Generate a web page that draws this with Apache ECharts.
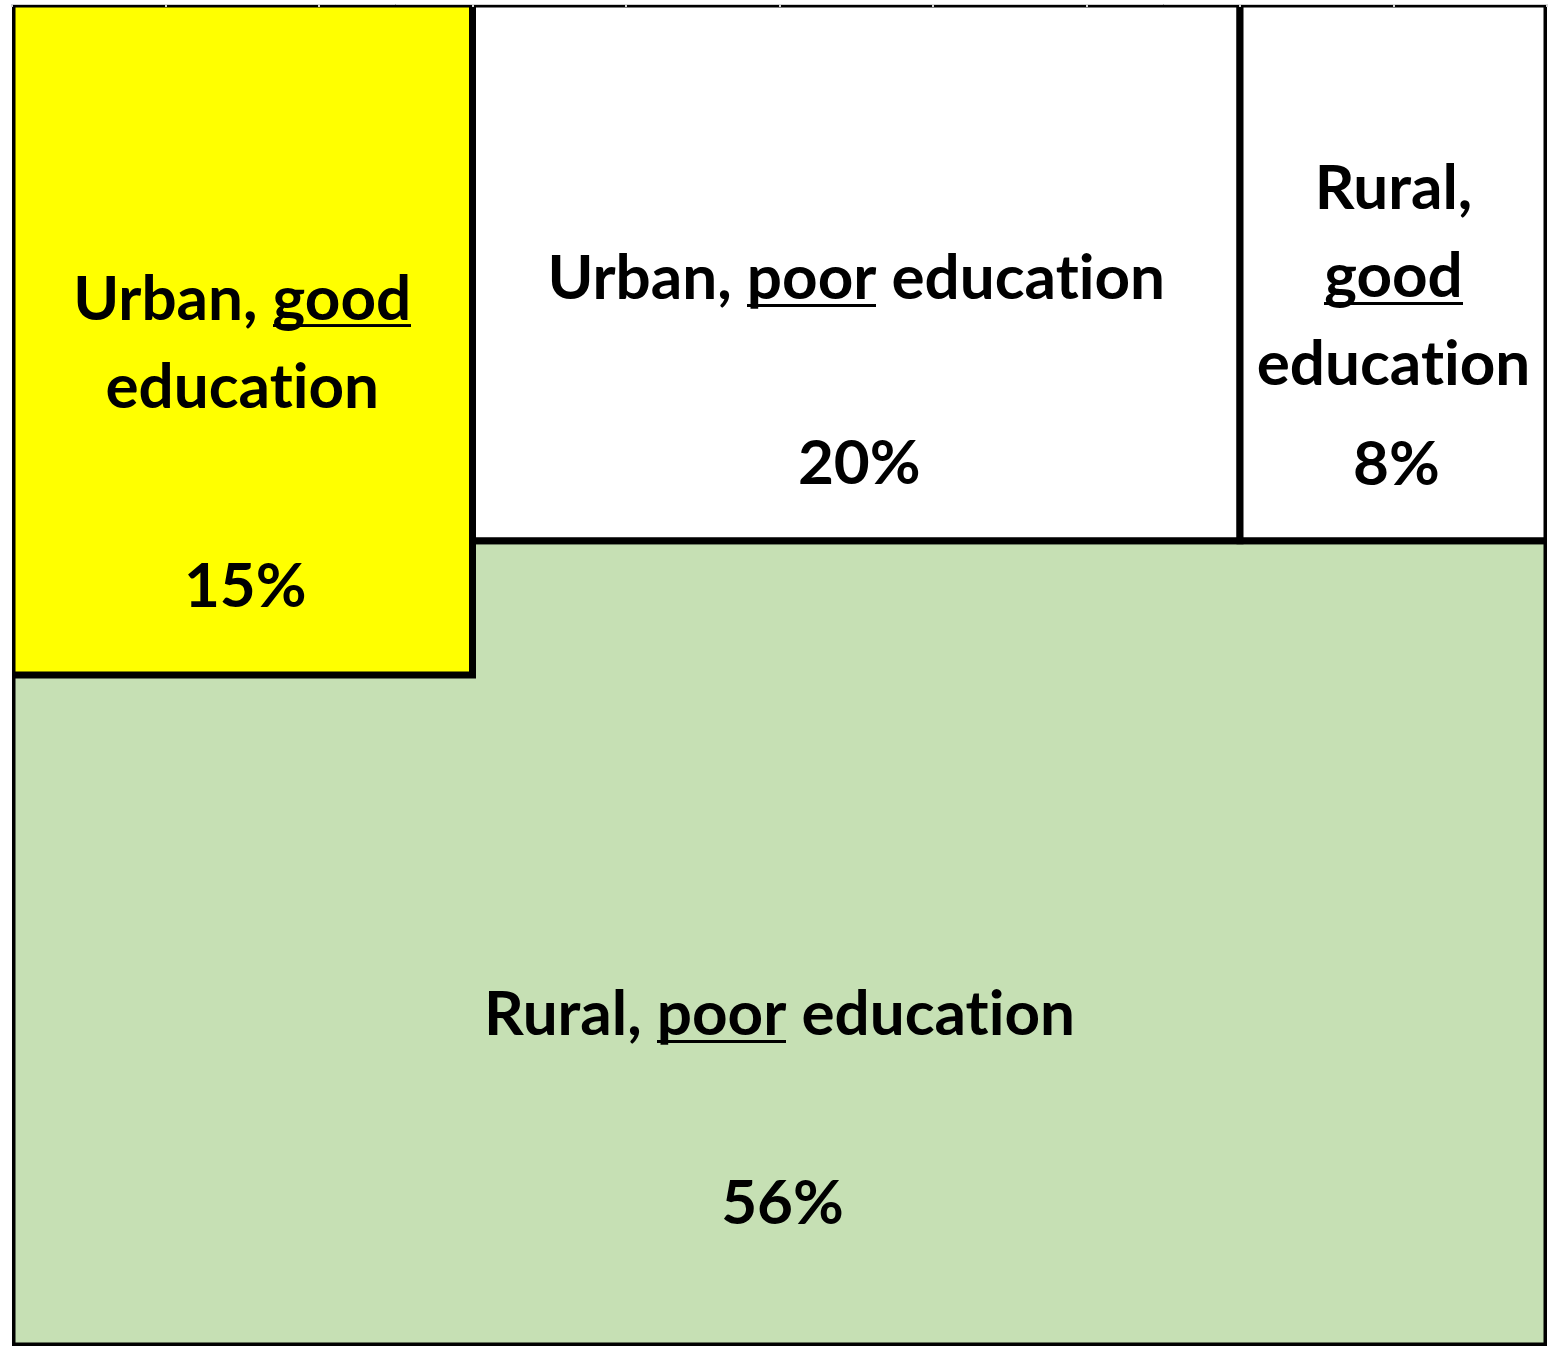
<!DOCTYPE html>
<html>
<head>
<meta charset="utf-8">
<script src="https://cdn.jsdelivr.net/npm/echarts@6/dist/echarts.min.js"></script>
<style>
  html, body { margin: 0; padding: 0; background: #fff; }
  #chart { width: 1549px; height: 1346px; }
</style>
</head>
<body>
<div id="chart"></div>
<script>
// mosaic cells: x = share of the width, y = share of the height (from the top)
const categories = ['Urban, good education', 'Urban, poor education', 'Rural, good education', 'Rural, poor education'];
const shares = [15, 20, 8, 56];
const xFrom = [0, 30, 80, 0];
const xTo = [30, 80, 100, 100];
const yFrom = [0, 0, 0, 40];
const yTo = [50, 40, 40, 100];

// how each name is broken into lines, {u|..} gets underlined
// ("ion" is its own token so Lato doesn't draw "ti" as a ligature)
const EDU = 'educat{n|ion}';
const labelText = [
  'Urban, {u|good}\n' + EDU,
  'Urban, {u|poor} ' + EDU,
  'Rural,\n{u|good}\n' + EDU,
  'Rural, {u|poor} ' + EDU
];

const fills = ['#ffff00', '#ffffff', '#ffffff', '#c6e0b4'];
// px shift of [name, percent] from the cell centre
const labelShift = [[4, 247], [7, 192], [5, 193], [72, 261]];
const LINE_H = 88;
const FONT = 'Lato, "Open Sans", sans-serif';

// size the font so the long name is as wide as in the picture
const mctx = document.createElement('canvas').getContext('2d');
mctx.font = 'bold 100px ' + FONT;
const fontSize = Math.round(100 * 618 / mctx.measureText('Urban, poor education').width);
mctx.font = 'bold ' + fontSize + 'px ' + FONT;
mctx.textBaseline = 'middle';
const baseDrop = mctx.measureText('x').actualBoundingBoxDescent;

// a strip used as background of the underlined word
const ul = document.createElement('canvas');
ul.width = 4;
ul.height = LINE_H;
const uctx = ul.getContext('2d');
uctx.fillStyle = '#000';
uctx.fillRect(0, Math.round(LINE_H / 2 + baseDrop + 15), 4, 4);

const tokenFont = {
  fontSize: fontSize,
  fontWeight: 'bold',
  fontFamily: FONT,
  lineHeight: LINE_H
};
const textBase = Object.assign({
  fill: '#000',
  align: 'center',
  verticalAlign: 'middle'
}, tokenFont);

// big cell first so the others are drawn over it
const order = [3, 0, 1, 2];
const cellData = order.map(i => [xFrom[i], xTo[i], yFrom[i], yTo[i], shares[i]]);

function renderItem(params, api) {
  const i = order[params.dataIndex];
  const p0 = api.coord([api.value(0), api.value(2)]);
  const p1 = api.coord([api.value(1), api.value(3)]);
  const cx = (p0[0] + p1[0]) / 2;
  const cy = (p0[1] + p1[1]) / 2;
  return {
    type: 'group',
    children: [
      {
        type: 'rect',
        z2: i === 3 ? 0 : 1,
        shape: {x: p0[0], y: p0[1], width: p1[0] - p0[0], height: p1[1] - p0[1]},
        style: {fill: fills[i], stroke: '#000', lineWidth: 7}
      },
      {
        type: 'text',
        z2: 5,
        style: Object.assign({}, textBase, {
          text: labelText[i],
          x: cx,
          y: cy + labelShift[i][0],
          rich: {
            u: Object.assign({backgroundColor: {image: ul}}, tokenFont),
            n: Object.assign({}, tokenFont)
          }
        })
      },
      {
        type: 'text',
        z2: 5,
        style: Object.assign({}, textBase, {
          text: api.value(4) + '%',
          x: cx + 3,
          y: cy + labelShift[i][1]
        })
      }
    ]
  };
}

const chart = echarts.init(document.getElementById('chart'));
chart.setOption({
  animation: false,
  grid: {left: 12, right: 2, top: 4, bottom: 0},
  xAxis: {
    type: 'value',
    position: 'top',
    min: 0,
    max: 100,
    interval: 10,
    offset: 1,
    z: 10,
    axisLine: {show: true, lineStyle: {color: '#cfcfcf', width: 1}},
    axisTick: {show: true, inside: true, length: 3, lineStyle: {color: '#d6d6d6', width: 2}},
    axisLabel: {show: false},
    splitLine: {show: false}
  },
  yAxis: {
    type: 'value',
    inverse: true,
    min: 0,
    max: 100,
    show: false,
    splitLine: {show: false}
  },
  series: [{
    type: 'custom',
    clip: true,
    renderItem: renderItem,
    encode: {x: [0, 1], y: [2, 3]},
    data: cellData
  }]
});
</script>
</body>
</html>
